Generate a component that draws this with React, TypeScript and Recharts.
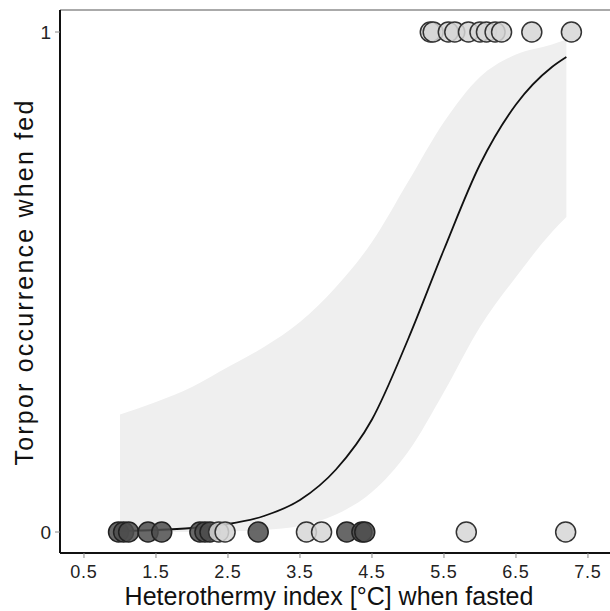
import React from 'react';
import { ComposedChart, Area, Line, Scatter, XAxis, YAxis, ReferenceLine, Label } from 'recharts';

// fitted curve + confidence band
const fitX = [1.0, 1.5, 2.0, 2.5, 3.0, 3.5, 4.0, 4.5, 5.0, 5.5, 6.0, 6.5, 7.0, 7.2];
const fitP = [0.002, 0.004, 0.008, 0.016, 0.032, 0.064, 0.125, 0.225, 0.385, 0.565, 0.735, 0.855, 0.93, 0.95];
const bandLow = [0, 0, 0, 0.001, 0.004, 0.012, 0.035, 0.08, 0.16, 0.28, 0.41, 0.51, 0.6, 0.63];
const bandHigh = [0.235, 0.26, 0.29, 0.33, 0.37, 0.42, 0.49, 0.58, 0.7, 0.82, 0.91, 0.955, 0.975, 0.985];

// observations
const darkAt0 = [0.98, 1.05, 1.12, 1.39, 1.58, 2.11, 2.18, 2.25, 2.92, 4.15, 4.36, 4.4];
const lightAt0 = [2.37, 2.46, 3.59, 3.8, 5.81, 7.19];
const lightAt1 = [5.31, 5.35, 5.56, 5.65, 5.84, 6.0, 6.09, 6.21, 6.3, 6.72, 7.27];

const xTicks = [0.5, 1.5, 2.5, 3.5, 4.5, 5.5, 6.5, 7.5];
const yTicks = [0, 1];
const X_MIN = 0.167;
const X_MAX = 7.806;
const Y_MIN = -0.042;
const Y_MAX = 1.044;

const fitData = fitX.map((x, i) => ({ x, p: fitP[i], band: [bandLow[i], bandHigh[i]] }));
const darkPts = darkAt0.map((x) => ({ x, y: 0 }));
const lightPts = [...lightAt0.map((x) => ({ x, y: 0 })), ...lightAt1.map((x) => ({ x, y: 1 }))];

const FONT = '"Liberation Sans", Arial, sans-serif';

const dot = (fill: string, stroke: string) => (props: any) => (
  <circle cx={props.cx} cy={props.cy} r={10} fill={fill} fillOpacity={0.85} stroke={stroke} strokeWidth={1.5} />
);

const XTick = (props: any) => (
  <text x={props.x} y={props.y + 18} textAnchor="middle" fontSize={18} letterSpacing={0.8} fill="#222" fontFamily={FONT}>
    {props.payload.value.toFixed(1)}
  </text>
);

const YTick = (props: any) => (
  <text x={props.x - 2} y={props.y + 7} textAnchor="end" fontSize={19} fill="#222" fontFamily={FONT}>
    {props.payload.value}
  </text>
);

export default function App() {
  return (
    <div style={{ position: 'absolute', left: 0, top: 0, width: 610, height: 611, background: '#fff' }}>
      <ComposedChart width={610} height={611} data={fitData} margin={{ top: 10, right: 0, bottom: 0, left: 0 }}>
        <XAxis
          dataKey="x"
          type="number"
          domain={[X_MIN, X_MAX]}
          ticks={xTicks}
          allowDataOverflow
          height={58}
          stroke="#111"
          strokeWidth={2}
          tickSize={5}
          tickLine={{ stroke: '#888', strokeWidth: 1 }}
          tick={<XTick />}
        >
          <Label
            content={() => (
              <text x={329} y={605} textAnchor="middle" fontSize={25} fill="#111" fontFamily={FONT}>
                Heterothermy index [°C] when fasted
              </text>
            )}
          />
        </XAxis>
        <YAxis
          type="number"
          domain={[Y_MIN, Y_MAX]}
          ticks={yTicks}
          allowDataOverflow
          width={60}
          stroke="#111"
          strokeWidth={2}
          tickSize={5}
          tickLine={{ stroke: '#888', strokeWidth: 1 }}
          tick={<YTick />}
        >
          <Label
            content={() => (
              <text
                x={33}
                y={282}
                transform="rotate(-90 33 282)"
                textAnchor="middle"
                fontSize={25}
                letterSpacing={2.2}
                fill="#111"
                fontFamily={FONT}
              >
                Torpor occurrence when fed
              </text>
            )}
          />
        </YAxis>
        <ReferenceLine y={Y_MAX} stroke="#aaa" strokeWidth={2} ifOverflow="visible" />
        <Area dataKey="band" type="monotone" fill="#efefef" fillOpacity={1} stroke="none" isAnimationActive={false} />
        <Scatter data={darkPts} dataKey="y" shape={dot('#4d4d4d', '#222')} isAnimationActive={false} />
        <Scatter data={lightPts} dataKey="y" shape={dot('#d6d6d6', '#333')} isAnimationActive={false} />
        <Line dataKey="p" type="monotone" stroke="#111" strokeWidth={1.8} dot={false} isAnimationActive={false} />
      </ComposedChart>
    </div>
  );
}
